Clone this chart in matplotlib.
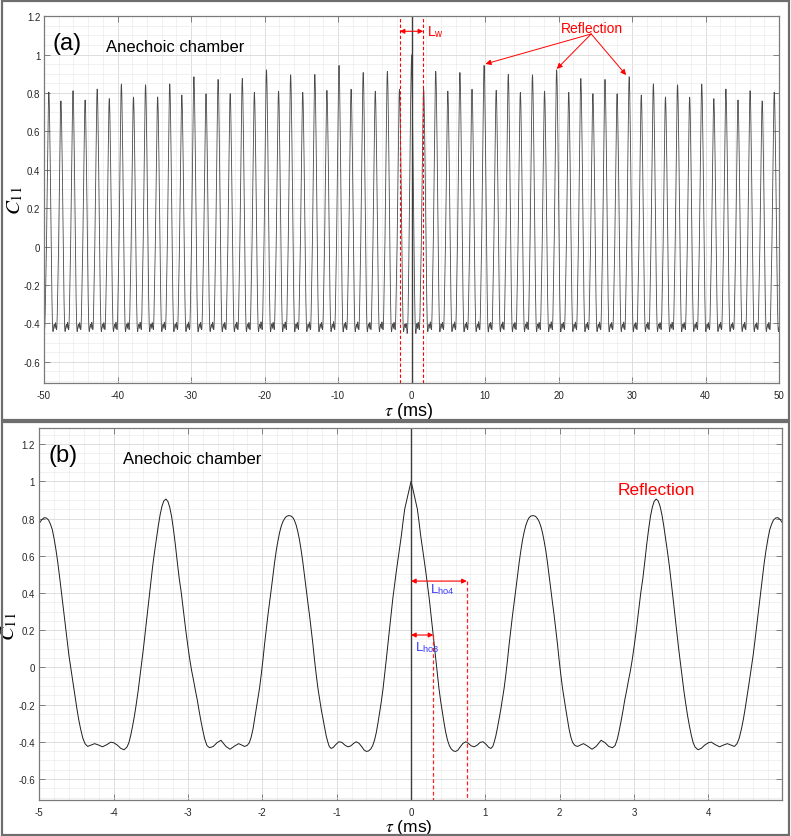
import numpy as np
import matplotlib
matplotlib.use("Agg")
import matplotlib.pyplot as plt
from matplotlib.ticker import FixedLocator, MultipleLocator, FuncFormatter
from matplotlib.patches import Rectangle

plt.rcParams['font.family'] = ['Liberation Sans', 'DejaVu Sans']
plt.rcParams['mathtext.fontset'] = 'stix'
plt.rcParams['axes.unicode_minus'] = False

# ---------------- data ----------------
# C11 for tau >= 0 (ms); the autocorrelation is symmetric in tau
TAU_B = [0.000, 0.030, 0.060, 0.085, 0.110, 0.130, 0.155, 0.175, 0.200, 0.220,
         0.245, 0.265, 0.285, 0.300, 0.315, 0.332, 0.355, 0.377, 0.400, 0.422,
         0.445, 0.467, 0.490, 0.515, 0.540, 0.570, 0.600, 0.630, 0.660, 0.700,
         0.737, 0.770, 0.810, 0.849, 0.890, 0.930, 0.970, 1.010, 1.045, 1.074,
         1.100, 1.120, 1.141, 1.165, 1.185, 1.208, 1.230, 1.253, 1.275, 1.298,
         1.320, 1.343, 1.365, 1.388, 1.410, 1.433, 1.455, 1.478, 1.500, 1.523,
         1.545, 1.568, 1.590, 1.615, 1.645, 1.675, 1.700, 1.722, 1.745, 1.768,
         1.790, 1.812, 1.835, 1.857, 1.880, 1.902, 1.925, 1.947, 1.970, 1.992,
         2.015, 2.037, 2.060, 2.082, 2.105, 2.125, 2.150, 2.175, 2.205, 2.240,
         2.280, 2.320, 2.370, 2.435, 2.490, 2.556, 2.610, 2.660, 2.710, 2.745,
         2.775, 2.800, 2.825, 2.850, 2.875, 2.900, 2.925, 2.950, 2.975, 3.000,
         3.030, 3.060, 3.090, 3.117, 3.145, 3.170, 3.195, 3.220, 3.245, 3.270,
         3.297, 3.325, 3.350, 3.375, 3.400, 3.425, 3.450, 3.475, 3.500, 3.525,
         3.550, 3.575, 3.600, 3.620, 3.645, 3.670, 3.695, 3.720, 3.745, 3.770,
         3.795, 3.820, 3.860, 3.905, 3.950, 4.000, 4.040, 4.090, 4.150, 4.200,
         4.255, 4.305, 4.350, 4.385, 4.415, 4.445, 4.470, 4.495, 4.520, 4.545,
         4.570, 4.600, 4.625, 4.650, 4.675, 4.700, 4.725, 4.750, 4.775, 4.800,
         4.825, 4.850, 4.875, 4.905, 4.935, 4.965, 5.000]
C_B = [1.000, 0.950, 0.895, 0.851, 0.775, 0.708, 0.640, 0.582, 0.510, 0.448,
       0.370, 0.296, 0.225, 0.170, 0.110, 0.045, -0.040, -0.117, -0.185, -0.242,
       -0.300, -0.350, -0.390, -0.420, -0.438, -0.449, -0.452, -0.445, -0.428, -0.408,
       -0.400, -0.408, -0.422, -0.427, -0.418, -0.403, -0.400, -0.414, -0.430, -0.436,
       -0.425, -0.400, -0.368, -0.320, -0.275, -0.225, -0.170, -0.110, -0.040, 0.040,
       0.125, 0.206, 0.280, 0.350, 0.420, 0.493, 0.565, 0.630, 0.685, 0.730,
       0.765, 0.790, 0.806, 0.814, 0.816, 0.812, 0.800, 0.785, 0.760, 0.725,
       0.680, 0.630, 0.565, 0.493, 0.420, 0.350, 0.280, 0.206, 0.125, 0.040,
       -0.040, -0.110, -0.170, -0.225, -0.280, -0.330, -0.375, -0.405, -0.420, -0.425,
       -0.417, -0.410, -0.422, -0.440, -0.425, -0.392, -0.405, -0.425, -0.432, -0.420,
       -0.385, -0.340, -0.290, -0.235, -0.175, -0.125, -0.070, -0.020, 0.040, 0.110,
       0.200, 0.300, 0.400, 0.475, 0.570, 0.660, 0.740, 0.810, 0.860, 0.892,
       0.905, 0.895, 0.866, 0.820, 0.760, 0.690, 0.620, 0.545, 0.460, 0.370,
       0.280, 0.190, 0.100, 0.035, -0.045, -0.125, -0.195, -0.260, -0.315, -0.365,
       -0.405, -0.428, -0.443, -0.435, -0.418, -0.405, -0.402, -0.415, -0.427, -0.418,
       -0.410, -0.418, -0.425, -0.410, -0.380, -0.330, -0.280, -0.220, -0.155, -0.090,
       -0.020, 0.060, 0.140, 0.225, 0.310, 0.395, 0.480, 0.560, 0.630, 0.690,
       0.740, 0.770, 0.792, 0.803, 0.805, 0.795, 0.775]

PERIOD = 1.645          # ms, spacing of the correlation peaks
TROUGH = -0.43
# peak heights in panel (a) for peak order n = 1..30 (same for -n)
PEAK_H = [0.820, 0.913, 0.810, 0.907, 0.820, 0.944, 0.814, 0.897, 0.804, 0.895,
          0.810, 0.921, 0.804, 0.876, 0.797, 0.871, 0.796, 0.885, 0.790, 0.848,
          0.780, 0.843, 0.779, 0.847, 0.771, 0.821, 0.764, 0.812, 0.759, 0.805]

LW_EDGES = [-1.6, 1.6]
REFL_TAIL = (24.45, 1.108)
REFL_HEADS = [(10.07, 0.952), (19.77, 0.926), (29.2, 0.894)]
LHO3, LHO3_Y = 0.30, 0.174
LHO4, LHO4_Y = 0.75, 0.464

# ---------------- build curves ----------------
tb = np.array(TAU_B)
cb = np.array(C_B)
tau_b = np.concatenate([-tb[:0:-1], tb])
c_b = np.concatenate([cb[:0:-1], cb])

# panel (a): one period taken from the measured curve around peak 2
p2 = 2 * PERIOD
m = (tb >= p2 - PERIOD / 2) & (tb < p2 + PERIOD / 2)
seg_t = tb[m] - p2
seg_c = cb[m]
seg_peak = seg_c.max()
mc = np.abs(tau_b) < PERIOD / 2
parts_t, parts_c = [], []
for n in range(-30, 31):
    if n == 0:
        parts_t.append(tau_b[mc]); parts_c.append(c_b[mc])
    else:
        h = PEAK_H[abs(n) - 1]
        parts_t.append(n * PERIOD + seg_t)
        parts_c.append(TROUGH + (seg_c - TROUGH) * (h - TROUGH) / (seg_peak - TROUGH))
tau_a = np.concatenate(parts_t)
c_a = np.concatenate(parts_c)
order = np.argsort(tau_a, kind='stable')
tau_a, c_a = tau_a[order], c_a[order]

# ---------------- figure ----------------
W, H = 791, 837
fig = plt.figure(figsize=(W / 100, H / 100), dpi=100)

def fbox(x0, y0, x1, y1):
    return [x0 / W, 1 - y1 / H, (x1 - x0) / W, (y1 - y0) / H]

for (x0, y0, x1, y1) in [(1.5, 1.5, 789, 421), (1.5, 423, 789, 835.5)]:
    fig.patches.append(Rectangle((x0 / W, 1 - y1 / H), (x1 - x0) / W, (y1 - y0) / H,
                                 transform=fig.transFigure, fill=False,
                                 edgecolor='#6e6e6e', lw=1.6))

ax1 = fig.add_axes(fbox(44, 17.3, 779, 384))
ax2 = fig.add_axes(fbox(39.3, 429, 782, 801))

fmt = FuncFormatter(lambda v, p: '%g' % round(v, 6))

def style(ax, xt, xminor, xlim, ylim, xpad, ypad):
    ax.set_xlim(*xlim)
    ax.set_ylim(*ylim)
    ax.xaxis.set_major_locator(FixedLocator(xt))
    ax.xaxis.set_minor_locator(MultipleLocator(xminor))
    ax.yaxis.set_major_locator(FixedLocator(np.round(np.arange(-0.6, 1.21, 0.2), 2)))
    ax.yaxis.set_minor_locator(MultipleLocator(0.05))
    ax.xaxis.set_major_formatter(fmt)
    ax.yaxis.set_major_formatter(fmt)
    ax.grid(which='major', color='#d8d8d8', lw=0.6)
    ax.grid(which='minor', color='#ebebeb', lw=0.5)
    ax.set_axisbelow(True)
    ax.tick_params(which='major', direction='in', top=True, right=True, length=4.3,
                   width=0.6, color='#6e6e6e', labelcolor='#262626', labelsize=7)
    ax.tick_params(axis='x', which='major', pad=xpad)
    ax.tick_params(axis='y', which='major', pad=ypad)
    ax.tick_params(which='minor', length=0)
    for s in ax.spines.values():
        s.set_color('#7a7a7a'); s.set_linewidth(0.9)

style(ax1, list(range(-50, 51, 10)), 2, (-50, 50), (-0.71, 1.2), 5.0, 2.6)
style(ax2, list(range(-5, 5)), 0.2, (-5.0, 4.99), (-0.713, 1.287), 5.2, 3.0)

# ---- panel (a)
ax1.plot(tau_a, c_a, color='#4a4a4a', lw=0.6)
ax1.axvline(0, color='#3c3c3c', lw=1.0)
for x in LW_EDGES:
    ax1.axvline(x, color='red', lw=0.8, ls=(0, (3, 2)))
ax1.annotate('', xy=(LW_EDGES[0], 1.122), xytext=(LW_EDGES[1], 1.122),
             arrowprops=dict(arrowstyle='<|-|>', color='red', lw=0.8,
                             mutation_scale=7, shrinkA=0, shrinkB=0))
ax1.text(2.05, 1.122, r'L$_\mathregular{w}$', color='red', fontsize=10,
         ha='left', va='center')
ax1.text(-48.85, 1.03, '(a)', fontsize=17, ha='left', va='baseline')
ax1.text(-41.5, 1.021, 'Anechoic chamber', fontsize=12, ha='left', va='baseline')
ax1.text(24.5, 1.117, 'Reflection', color='red', fontsize=10, ha='center', va='baseline')
for hx, hy in REFL_HEADS:
    ax1.annotate('', xy=(hx, hy), xytext=REFL_TAIL,
                 arrowprops=dict(arrowstyle='-|>', color='red', lw=0.7,
                                 mutation_scale=8, shrinkA=0, shrinkB=0))
ax1.set_ylabel(r'$C_{11}$', fontsize=15)
ax1.yaxis.set_label_coords(-0.026, 0.50)
ax1.set_xlabel(r'$\tau$ (ms)', fontsize=13)
ax1.xaxis.set_label_coords(0.4966, -0.047)

# ---- panel (b)
ax2.plot(tau_b, c_b, color='#1e1e1e', lw=0.7)
ax2.axvline(0, color='#3c3c3c', lw=1.0)
ylo = ax2.get_ylim()[0]
for xv, yv in [(LHO4, LHO4_Y), (LHO3, LHO3_Y)]:
    ax2.plot([xv, xv], [yv, ylo], color='#ff2020', lw=0.9, ls=(0, (3, 2)))
    ax2.annotate('', xy=(0, yv), xytext=(xv, yv),
                 arrowprops=dict(arrowstyle='<|-|>', color='red', lw=0.8,
                                 mutation_scale=7, shrinkA=0, shrinkB=0))
ax2.text(0.262, 0.425, r'L$_\mathregular{ho4}$', color='#3a3aff', fontsize=9.5,
         ha='left', va='center')
ax2.text(0.050, 0.111, r'L$_\mathregular{ho3}$', color='#3a3aff', fontsize=9.5,
         ha='left', va='center')
ax2.text(-4.88, 1.111, '(b)', fontsize=17, ha='left', va='baseline')
ax2.text(-3.88, 1.097, 'Anechoic chamber', fontsize=12, ha='left', va='baseline')
ax2.text(3.30, 0.932, 'Reflection', color='red', fontsize=12.5, ha='center', va='baseline')
ax2.set_ylabel(r'$C_{11}$', fontsize=15)
ax2.yaxis.set_label_coords(-0.028, 0.47)
ax2.set_xlabel(r'$\tau$ (ms)', fontsize=12.5)
ax2.xaxis.set_label_coords(0.4978, -0.046)

fig.savefig('out.png', dpi=100)
